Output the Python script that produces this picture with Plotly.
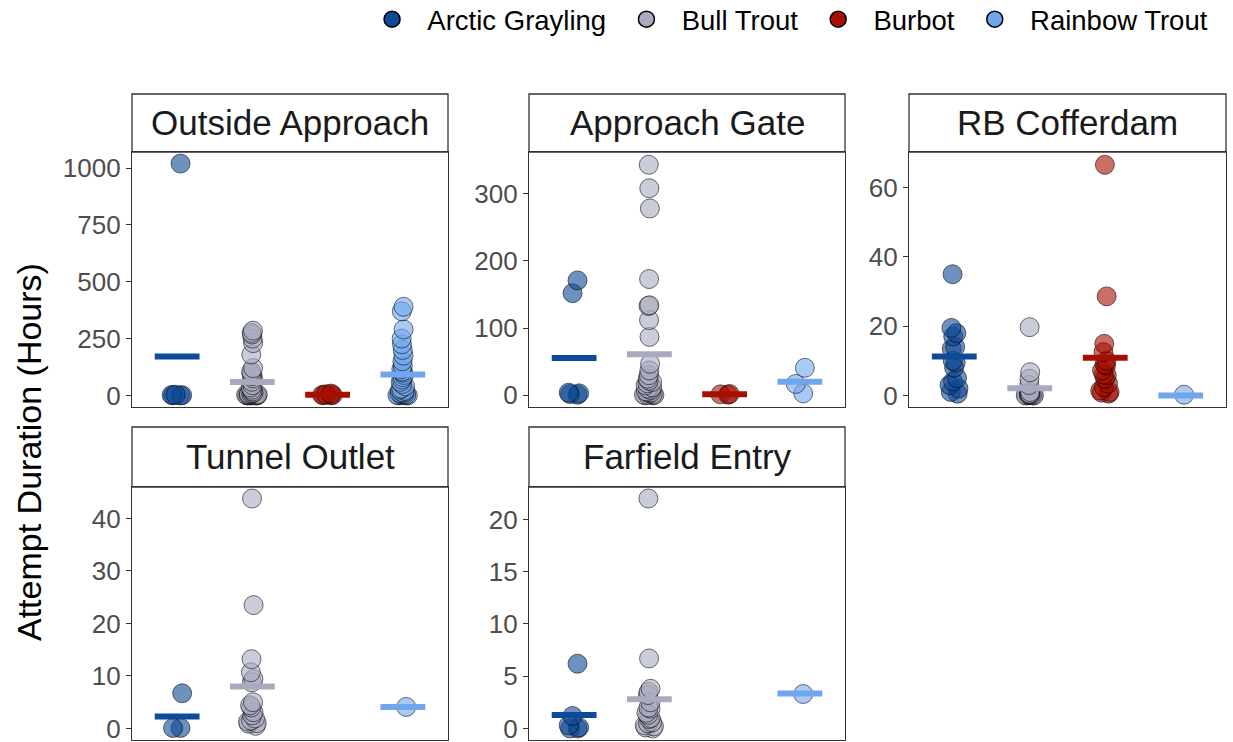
import plotly.graph_objects as go

# ---------------- data ----------------
species = ["Arctic Grayling", "Bull Trout", "Burbot", "Rainbow Trout"]
locations = ["Outside Approach", "Approach Gate", "RB Cofferdam", "Tunnel Outlet", "Farfield Entry"]
colors = ["#0E4A96", "#A9AABF", "#A50F00", "#6FA6EC"]
point_fill = ["rgba(14,74,150,0.6)", "rgba(169,170,191,0.6)", "rgba(165,15,0,0.6)", "rgba(111,166,236,0.6)"]

# Outside Approach
oa_grayling = [1020, 3, 2, 1, 0.5, 0]
oa_bull = [285, 275, 268, 250, 230, 180, 120, 105, 95, 85, 75, 60, 45, 35, 25, 18, 12, 8,
           5, 3, 2, 1, 0.5, 0, 0, 1, 2, 4, 6, 10, 0, 0, 1, 2, 0.5, 3, 0]
oa_burbot = [0, 2, 5, 8, 1, 2]
oa_rainbow = [390, 370, 290, 250, 225, 200, 175, 150, 130, 115, 105, 100, 90, 80, 70, 60, 50,
              40, 30, 25, 20, 15, 10, 5, 3, 1, 0, 0, 0, 2, 4, 8, 12]
oa_means = [171, 59, 3, 92]

# Approach Gate
ag_grayling = [171, 152, 4, 3, 2, 1]
ag_bull = [343, 308, 278, 173, 134, 133, 112, 87, 47, 37, 30, 25, 22, 20, 18, 15, 12, 10, 8,
           6, 5, 4, 3, 2, 1, 1, 0.5, 0, 0]
ag_burbot = [1, 2, 1.5]
ag_rainbow = [41, 17, 3]
ag_means = [55.5, 61, 1.5, 20.3]

# RB Cofferdam
rb_grayling = [35, 19.5, 18, 17, 14, 13.5, 10, 9.5, 8, 5, 4, 3, 2, 1, 0.5]
rb_bull = [19.7, 6.7, 4.8, 3, 1, 0.5, 0.3, 0.2, 0.1, 0, 0, 0, 0.2, 0.4, 0.1, 0, 0.5]
rb_burbot = [66.6, 28.6, 14.9, 12.5, 10, 9, 8.6, 7.2, 6, 5.8, 4.8, 3.4, 2.4, 1.4, 1, 0.8, 0.5]
rb_rainbow = [0.2]
rb_means = [11.2, 2.1, 10.9, 0]

# Tunnel Outlet
to_grayling = [6.7, 0.1, 0.1]
to_bull = [43.8, 23.5, 13.2, 10.7, 9.4, 8.8, 5, 4.4, 4, 3.1, 2.5, 1.9, 1.5, 1.3, 1, 0.9, 0.5]
to_burbot = []
to_rainbow = [4.1]
to_means = [2.3, 8.0, None, 4.1]

# Farfield Entry
fe_grayling = [6.2, 1.2, 0.3, 0.1, 0, 0]
fe_bull = [22, 6.7, 3.8, 3.5, 3.2, 2.5, 2, 1.9, 1.5, 1.3, 1, 0.9, 0.6, 0.5, 0.3, 0.2, 0.1, 0]
fe_burbot = []
fe_rainbow = [3.3]
fe_means = [1.3, 2.8, None, 3.35]

panel_points = [
    [oa_grayling, oa_bull, oa_burbot, oa_rainbow],
    [ag_grayling, ag_bull, ag_burbot, ag_rainbow],
    [rb_grayling, rb_bull, rb_burbot, rb_rainbow],
    [to_grayling, to_bull, to_burbot, to_rainbow],
    [fe_grayling, fe_bull, fe_burbot, fe_rainbow],
]
panel_means = [oa_means, ag_means, rb_means, to_means, fe_means]
y_ranges = [[-51, 1071], [-17.3, 362], [-3.35, 70.3], [-2.2, 46], [-1.1, 23.1]]
y_dticks = [250, 100, 20, 10, 5]

# ---------------- layout geometry (pixels) ----------------
W, H = 1233, 742
px_x = [(132, 448), (529, 845), (909, 1226), (132, 448), (529, 845)]
px_y = [(152, 407, 94), (152, 407, 94), (152, 407, 94), (487, 740, 427), (487, 740, 427)]

FONT = "Liberation Sans, Arial, sans-serif"
NB = "\u00a0"
fig = go.Figure()
layout_axes = {}
shapes = []
annotations = []

for i in range(5):
    ax = "" if i == 0 else str(i + 1)
    xref, yref = "x" + ax, "y" + ax
    x0, x1 = px_x[i][0] / W, px_x[i][1] / W
    top, bot, stop = px_y[i]
    yd0, yd1 = 1 - bot / H, 1 - top / H
    layout_axes["xaxis" + ax] = dict(
        domain=[x0, x1], anchor=yref, type="category", categoryorder="array",
        categoryarray=species, range=[-0.6, 3.6], showticklabels=False, ticks="",
        showline=True, mirror=True, linecolor="#333333", linewidth=1.3,
        showgrid=False, zeroline=False, fixedrange=True)
    layout_axes["yaxis" + ax] = dict(
        domain=[yd0, yd1], anchor=xref, range=y_ranges[i], tick0=0, dtick=y_dticks[i],
        ticks="outside", ticklen=5, tickwidth=1.3, tickcolor="#333333",
        tickfont=dict(size=26, color="#4D4D4D", family=FONT), ticklabeloverflow="allow",
        showline=True, mirror=True, linecolor="#333333", linewidth=1.3,
        showgrid=False, zeroline=False, fixedrange=True)
    # strip
    shapes.append(dict(type="rect", xref="paper", yref="paper", x0=x0, x1=x1,
                       y0=yd1, y1=1 - stop / H, line=dict(color="#333333", width=1.3),
                       fillcolor="white", layer="below"))
    annotations.append(dict(text=locations[i], xref="paper", yref="paper",
                            x=(x0 + x1) / 2, y=(yd1 + 1 - stop / H) / 2,
                            xanchor="center", yanchor="middle", showarrow=False,
                            font=dict(size=35, color="#1A1A1A", family=FONT)))

    for s in range(4):
        vals = panel_points[i][s]
        if len(vals) == 0:
            continue
        fig.add_trace(go.Box(
            x=[species[s]] * len(vals), y=vals, xaxis=xref, yaxis=yref,
            boxpoints="all", jitter=0.35, pointpos=0,
            fillcolor="rgba(0,0,0,0)", line=dict(color="rgba(0,0,0,0)", width=0),
            marker=dict(size=19, color=point_fill[s],
                        line=dict(color="rgba(0,0,0,0.55)", width=1)),
            hoveron="points", showlegend=False, name=species[s]))
    for s in range(4):
        m = panel_means[i][s]
        if m is None:
            continue
        fig.add_trace(go.Scatter(
            x=[species[s]], y=[m], xaxis=xref, yaxis=yref, mode="markers",
            marker=dict(symbol="line-ew", size=32, color=colors[s],
                        line=dict(color=colors[s], width=6)),
            showlegend=False, hoverinfo="y", name=species[s]))

# legend entries
for s in range(4):
    fig.add_trace(go.Scatter(
        x=[None], y=[None], mode="markers", name=NB * 2 + species[s] + NB * 2,
        marker=dict(size=16, color=colors[s], line=dict(color="black", width=1.5))))

annotations.append(dict(text="Attempt Duration (Hours)", xref="paper", yref="paper",
                        x=29 / W, y=1 - 452 / H, textangle=-90, xanchor="center",
                        yanchor="middle", showarrow=False,
                        font=dict(size=34, color="black", family=FONT)))

fig.update_layout(
    width=W, height=H, margin=dict(l=0, r=0, t=0, b=0, autoexpand=False),
    paper_bgcolor="white", plot_bgcolor="white",
    font=dict(family=FONT),
    shapes=shapes, annotations=annotations,
    legend=dict(orientation="h", x=0.996, xanchor="right", y=1.007, yanchor="top",
                font=dict(size=27.5, color="black", family=FONT),
                bgcolor="rgba(0,0,0,0)", itemwidth=30),
    boxmode="overlay",
    **layout_axes,
)

fig.write_html("out.html", config={"displayModeBar": False},
               post_script="document.body.style.margin='0';")
